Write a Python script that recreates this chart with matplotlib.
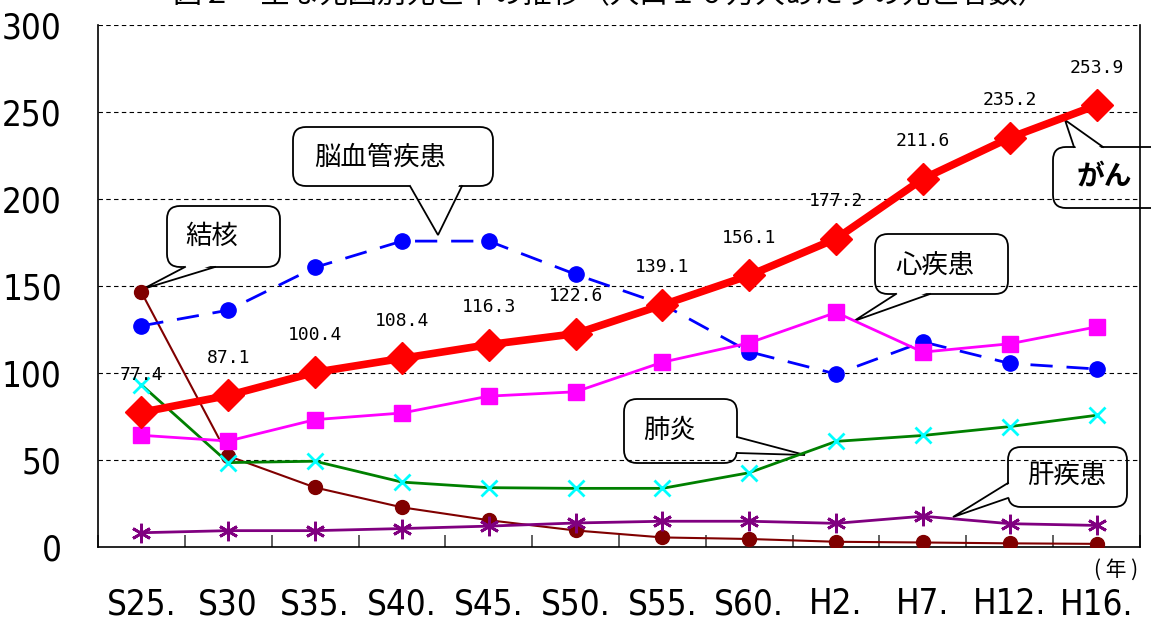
import matplotlib
matplotlib.use('Agg')
import matplotlib.pyplot as plt
from matplotlib.patches import FancyBboxPatch, Polygon
from matplotlib.transforms import Affine2D
import numpy as np

plt.rcParams['font.family'] = ['Noto Sans CJK JP', 'DejaVu Sans']

# data (deaths per 100,000)
years = ['S25.', 'S30', 'S35.', 'S40.', 'S45.', 'S50.', 'S55.', 'S60.', 'H2.', 'H7.', 'H12.', 'H16.']
cancer = [77.4, 87.1, 100.4, 108.4, 116.3, 122.6, 139.1, 156.1, 177.2, 211.6, 235.2, 253.9]
heart = [64.2, 60.9, 73.2, 77.0, 86.7, 89.2, 106.2, 117.3, 134.8, 112.0, 116.8, 126.5]
cerebro = [127.1, 136.1, 160.7, 175.8, 175.8, 156.7, 139.5, 112.2, 99.4, 117.9, 105.5, 102.3]
pneumonia = [93.2, 48.5, 49.3, 37.3, 34.1, 33.7, 33.7, 42.7, 60.7, 64.1, 69.2, 75.7]
tb = [146.4, 52.3, 34.2, 22.8, 15.4, 9.5, 5.5, 4.6, 3.0, 2.6, 2.1, 1.8]
liver = [8.2, 9.4, 9.4, 10.6, 12.0, 13.8, 14.8, 14.8, 13.6, 17.7, 13.4, 12.4]

W, H = 1151, 619
x = np.arange(len(years))

fig = plt.figure(figsize=(W / 100, H / 100), dpi=100)
ax = fig.add_axes([98 / W, 1 - 547 / H, 1042 / W, 522 / H])

ax.plot(x, tb, color='#800000', lw=1.5, marker='o', ms=10, zorder=3)
ax.plot(x, liver, color='#800080', lw=2, marker=(6, 2, 0), ms=14, mew=2, zorder=3)
ax.plot(x, pneumonia, color='#008000', lw=2, marker='x', ms=12, mew=2,
        mec='#00FFFF', zorder=3)
ax.plot(x, cerebro, color='#0000FF', lw=2, ls=(0, (8, 5)), marker='o', ms=11, zorder=3)
ax.plot(x, heart, color='#FF00FF', lw=2, marker='s', ms=11, zorder=3)
ax.plot(x, cancer, color='#FF0000', lw=5.5, marker='D', ms=16, zorder=4)

# cancer value labels
for i, v in enumerate(cancer):
    ax.annotate(f'{v:.1f}', (i, v), xytext=(0, 27), textcoords='offset points',
                ha='center', va='center', fontsize=13, family='DejaVu Sans Mono', zorder=5)

ax.set_xlim(-0.5, len(years) - 0.5)
ax.set_ylim(0, 300)
ax.set_yticks(range(0, 301, 50))
ax.set_xticks(x)
ax.set_xticklabels(years)
ax.set_xticks(np.arange(-0.5, len(years)), minor=True)
for y in range(50, 301, 50):
    ax.axhline(y, color='black', lw=0.8, ls=(0, (4, 3)), zorder=2)
ax.spines['top'].set_visible(False)
for s in ['left', 'bottom', 'right']:
    ax.spines[s].set_linewidth(1.2)
ax.tick_params(axis='x', which='major', length=0, pad=29, labelsize=25)
ax.tick_params(axis='x', which='minor', direction='in', length=9, width=1.2, color='#444444')
ax.tick_params(axis='y', length=0, pad=26, labelsize=25)
for lab in ax.get_xticklabels() + ax.get_yticklabels():
    lab.set_family('DejaVu Sans')
    lab.set_fontstretch('condensed')

# speech-bubble callouts, laid out in pixel coords (origin top-left)
pix = Affine2D().scale(1, -1).translate(0, H)

def callout(text, box, tcenter, base, tip, size=19, weight='normal'):
    x0, y0, x1, y1 = box
    ax.add_patch(FancyBboxPatch((x0, y0), x1 - x0, y1 - y0,
                                boxstyle='round,pad=0,rounding_size=13',
                                transform=pix, clip_on=False, fc='white', ec='black',
                                lw=1.3, zorder=1.5))
    (bx0, by0), (bx1, by1) = base
    # pull the base slightly into the box so the fill hides the border there
    cx, cy = (x0 + x1) / 2, (y0 + y1) / 2
    def inward(px, py):
        dx, dy = cx - px, cy - py
        n = np.hypot(dx, dy)
        return px + 3 * dx / n, py + 3 * dy / n
    ax.add_patch(Polygon([inward(bx0, by0), tip, inward(bx1, by1)], closed=True,
                         transform=pix, clip_on=False, fc='white', ec='none', zorder=1.6))
    ax.plot([bx0, tip[0], bx1], [by0, tip[1], by1], color='black', lw=1.3,
            transform=pix, clip_on=False, zorder=1.7, solid_joinstyle='miter')
    ax.text(tcenter[0], tcenter[1], text, transform=pix, ha='center', va='center',
            fontsize=size, fontweight=weight, clip_on=False, zorder=1.8)

callout('脳血管疾患', (293, 127, 493, 186), (380, 157), ((410, 186), (462, 186)), (438, 235))
callout('結核', (167, 206, 280, 267), (212, 236), ((185, 267), (215, 267)), (143, 289))
callout('心疾患', (875, 234, 1008, 294), (935, 265), ((896, 294), (930, 294)), (854, 321))
callout('肺炎', (624, 399, 737, 463), (670, 430), ((737, 437), (737, 453)), (805, 455))
callout('肝疾患', (1008, 447, 1127, 507), (1067, 475), ((1008, 483), (1008, 498)), (953, 517))
callout('がん', (1053, 147, 1170, 208), (1104, 177), ((1074, 147), (1103, 147)), (1065, 120),
        size=20, weight='bold')

fig.text(0.53, 1.008, '図２　主な死因別死亡率の推移（人口１０万人あたりの死亡者数）',
         ha='center', va='center', fontsize=21)
fig.text(1116 / W, 1 - 570 / H, '( 年 )', ha='center', va='center', fontsize=15)

fig.savefig('out.png', dpi=100)
